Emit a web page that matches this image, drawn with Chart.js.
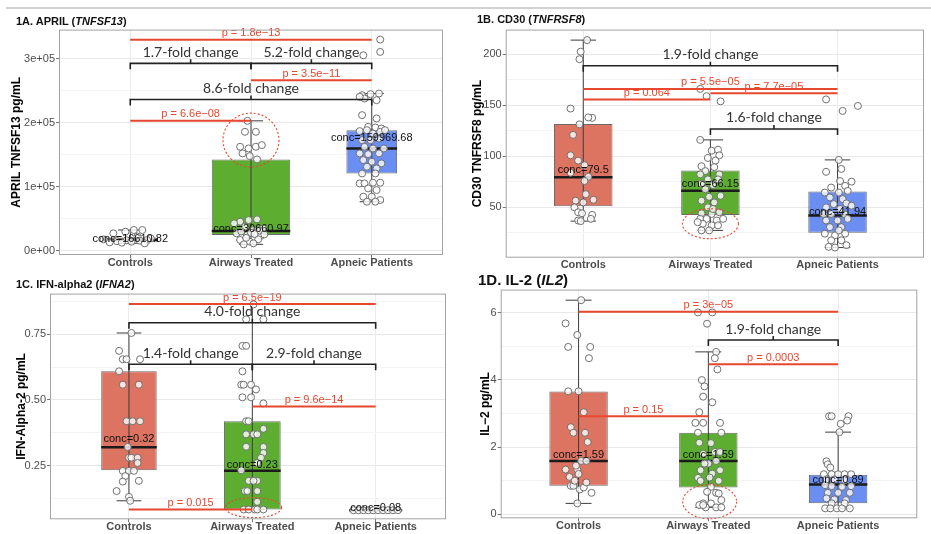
<!DOCTYPE html>
<html>
  <head>
    <meta charset='utf-8'>
    <title>Cytokine levels by group</title>

    <style>
      body {
        margin: 0;
        background: #fff;
        font-family: "Liberation Sans", Arial, sans-serif;
      }

      canvas { position: absolute; }

      .rule {
        position: absolute;
        left: 6px;
        right: 0;
        top: 7px;
        height: 2px;
        background: #d2d2d2;
      }

      .title {
        position: absolute;
        font-size: 11px;
        line-height: 13px;
        font-weight: bold;
        color: #111;
        white-space: nowrap;
      }
    </style>
    <script src='https://cdn.jsdelivr.net/npm/chart.js@4'></script>
  </head>
  <body onload='load();'>
    <div class='rule'></div>

    <canvas id='april' width='460' height='250' style='left:0;top:22px'></canvas>
    <canvas id='cd30' width='466' height='250' style='left:465px;top:22px'></canvas>
    <canvas id='ifn' width='460' height='248' style='left:0;top:286px'></canvas>
    <canvas id='il2' width='466' height='252' style='left:465px;top:282px'></canvas>

    <div class='title' style='left:16px;top:15px'>1A. APRIL (<i>TNFSF13</i>)</div>
    <div class='title' style='left:477px;top:13px'>1B. CD30 (<i>TNFRSF8</i>)</div>
    <div class='title' style='left:16px;top:278px'>1C. IFN-alpha2 (<i>IFNA2</i>)</div>
    <div class='title' style='left:478px;top:271px;font-size:15px;line-height:17px'>1D. IL-2 (<i>IL2</i>)</div>

    <script>
    var groups = ['Controls', 'Airways Treated', 'Apneic Patients'];
    var groupColors = ['#dd7361', '#5dad31', '#6b8ef2'];

    // ---- 1A APRIL ----
    var aprilCtrl = [32300, 32300, 29700, 27100, 22000, 19300, 17700, 16600, 16200, 15600, 14800, 14100, 13000, 12500, 11500];
    var aprilCtrlJit = [0.03, 0.10, -0.04, -0.14, 0.06, 0.17, -0.22, 0.14, -0.03, 0.08, -0.11, 0.01, -0.17, -0.07, 0.12];
    var aprilAir = [203100, 185900, 185900, 162500, 159900, 162500, 165100, 152100, 147900, 142700,
      45300, 47900, 49000, 42700, 37500, 32300, 34900, 27100, 24500, 27100, 22900, 16700, 14100, 17700, 9900, 11500,
      28000, 30000, 31500, 25500, 20000, 26000];
    var aprilAirJit = [-0.03, -0.05, 0.04, -0.09, -0.02, 0.04, 0.09, -0.07, -0.01, 0.05,
      -0.09, -0.02, 0.05, -0.14, -0.05, 0.02, 0.10, -0.12, -0.03, 0.04, 0.08, -0.09, -0.01, 0.06, -0.06, 0.02,
      0.00, -0.08, 0.07, 0.11, -0.04, 0.03];
    var aprilApn = [330200, 310900, 305700, 243200, 244800, 245800, 238000, 235400, 240600, 212000,
      206800, 193700, 192700, 191100, 187000, 188500, 183300, 185900, 188500, 172900,
      172900, 175500, 162500, 159900, 159900, 152100, 151000, 152100, 141700, 139100,
      136500, 131300, 128600, 120800, 120800, 105200, 105200, 106300, 106300, 97400,
      94800, 84400, 84400, 79200, 76600, 76600];
    var aprilApnJit = [0.07, 0.07, -0.07, -0.08, -0.01, 0.06, -0.06, 0.04, -0.10, -0.08,
      0.04, -0.03, 0.03, 0.08, -0.10, -0.04, 0.01, 0.07, 0.11, -0.08,
      -0.01, 0.06, -0.06, 0.01, 0.10, -0.10, -0.03, 0.06, -0.07, 0.00,
      0.08, -0.04, 0.04, -0.08, 0.03, -0.10, -0.06, 0.01, 0.07, -0.03,
      0.04, -0.07, 0.00, 0.07, -0.04, 0.03];
    var aprilLow = [11500, 9900, 76600];
    var aprilQ1 = [14300, 24500, 120800];
    var aprilMed = [16610.82, 30660.97, 159969.68];
    var aprilQ3 = [20500, 142700, 188500];
    var aprilHigh = [32300, 203100, 245800];
    var aprilTicks = [0, 100000, 200000, 300000];
    var aprilTickText = ['0e+00', '1e+05', '2e+05', '3e+05'];
    var aprilPFrom = [1, 2, 1], aprilPTo = [3, 3, 2];
    var aprilPAt = [330000, 266700, 203100];
    var aprilPText = ['1.8e\u221213', '3.5e\u221211', '6.6e\u221208'];
    var aprilFoldFrom = [1, 2, 1], aprilFoldTo = [2, 3, 3];
    var aprilFoldAt = [293000, 293000, 236500];
    var aprilFold = ['1.7', '5.2', '8.6'];

    // ---- 1B CD30 ----
    var cd30Ctrl = [213.9, 202.6, 195.2, 146.8, 131.3, 137.7, 138.1, 121.0, 101.0, 95.8, 91.3, 83.9, 80.0,
      75.8, 62.9, 56.5, 54.8, 57.4, 50.0, 45.2, 44.2, 42.6, 38.7, 37.1, 36.5];
    var cd30CtrlJit = [0.03, -0.02, -0.03, -0.10, -0.03, 0.07, 0.04, -0.08, -0.10, -0.04, 0.01, -0.10, 0.04,
      0.01, 0.02, -0.06, 0.00, 0.08, -0.07, -0.04, -0.01, 0.07, 0.06, -0.04, -0.02];
    var cd30Air = [166.1, 159.0, 153.9, 116.1, 105.5, 106.5, 101.0, 98.4, 95.8, 90.3,
      89.4, 85.5, 82.3, 82.3, 77.4, 77.4, 73.2, 71.9, 67.7, 61.3,
      60.3, 56.5, 54.8, 50.0, 44.2, 43.5, 45.2, 38.7, 38.7, 37.1,
      38.7, 33.9, 32.3, 32.3, 27.4, 27.4, 35.5, 48.4];
    var cd30AirJit = [-0.08, -0.03, 0.08, -0.08, 0.01, 0.06, 0.07, -0.02, 0.04, -0.07,
      0.03, -0.04, 0.07, -0.08, -0.02, 0.06, -0.07, 0.02, -0.04, 0.08,
      -0.01, -0.07, 0.03, -0.02, -0.07, 0.01, 0.07, -0.08, -0.03, 0.05,
      0.10, -0.06, 0.01, 0.06, -0.01, -0.07, -0.10, 0.02];
    var cd30Apn = [155.8, 144.5, 149.4, 96.5, 84.8, 87.7, 75.8, 75.2, 69.4, 71.0,
      64.5, 64.5, 66.1, 59.7, 58.1, 53.2, 53.9, 50.0, 48.4, 51.6,
      43.5, 42.9, 37.1, 37.1, 38.7, 30.6, 30.6, 24.2, 22.6, 24.2,
      17.7, 17.7, 11.3, 10.6, 12.9, 27.4, 43.5];
    var cd30ApnJit = [-0.09, 0.04, 0.16, 0.01, -0.09, 0.03, 0.02, 0.11, -0.05, 0.06,
      -0.10, 0.01, 0.08, -0.06, 0.04, -0.03, 0.07, -0.09, 0.02, 0.11,
      -0.05, 0.06, -0.09, 0.00, 0.08, -0.06, 0.03, -0.10, -0.02, 0.06,
      -0.05, 0.03, -0.07, -0.02, 0.07, 0.01, -0.11];
    var cd30Low = [36.5, 27.4, 10.6];
    var cd30Q1 = [51.0, 42.6, 25.2];
    var cd30Med = [79.5, 66.15, 41.94];
    var cd30Q3 = [131.6, 86.0, 65.5];
    var cd30High = [213.9, 116.1, 96.5];
    var cd30Ticks = [50, 100, 150, 200];
    var cd30TickText = ['50', '100', '150', '200'];
    var cd30PFrom = [1, 2, 1], cd30PTo = [3, 3, 2];
    var cd30PAt = [166.1, 161.9, 155.8];
    var cd30PText = ['5.5e\u221205', '7.7e\u221205', '0.064'];
    var cd30FoldFrom = [1, 2], cd30FoldTo = [3, 3];
    var cd30FoldAt = [188.7, 126.8];
    var cd30Fold = ['1.9', '1.6'];

    // ---- 1C IFN-alpha2 ----
    var ifnCtrl = [0.755, 0.687, 0.655, 0.655, 0.655, 0.609, 0.558, 0.558, 0.419, 0.419, 0.419, 0.321, 0.280,
      0.280, 0.280, 0.260, 0.230, 0.230, 0.230, 0.210, 0.189, 0.192, 0.153, 0.131, 0.116];
    var ifnCtrlJit = [0.02, -0.08, -0.05, -0.02, 0.09, -0.08, -0.05, 0.08, -0.02, 0.03, 0.09, -0.01, 0.00,
      0.02, 0.07, 0.07, -0.05, 0.00, 0.04, -0.03, -0.05, 0.08, -0.10, 0.00, 0.01];
    var ifnAir = [0.864, 0.807, 0.807, 0.706, 0.706, 0.609, 0.558, 0.558, 0.558, 0.540,
      0.510, 0.510, 0.487, 0.419, 0.419, 0.390, 0.369, 0.369, 0.369, 0.322,
      0.321, 0.298, 0.280, 0.260, 0.232, 0.192, 0.192, 0.192, 0.153, 0.153,
      0.153, 0.112, 0.083, 0.083, 0.083, 0.083, 0.083];
    var ifnAirJit = [0.01, -0.05, 0.09, -0.08, -0.05, -0.08, -0.09, -0.07, -0.01, 0.03,
      -0.08, -0.01, 0.09, -0.05, -0.03, 0.09, -0.05, 0.01, 0.04, -0.05,
      0.09, 0.09, 0.07, 0.04, -0.09, -0.03, 0.04, 0.01, -0.06, -0.04,
      0.04, 0.04, -0.07, -0.03, 0.02, 0.04, 0.09];
    var ifnApn = [0.08, 0.08, 0.08, 0.08, 0.08, 0.08, 0.08, 0.08, 0.08, 0.08];
    var ifnApnJit = [-0.18, -0.14, -0.10, -0.06, -0.02, 0.02, 0.06, 0.10, 0.14, 0.18];
    var ifnLow = [0.116, 0.083, 0.08];
    var ifnQ1 = [0.232, 0.083, 0.08];
    var ifnMed = [0.32, 0.23, 0.08];
    var ifnQ3 = [0.609, 0.419, 0.08];
    var ifnHigh = [0.755, 0.864, 0.08];
    var ifnTicks = [0.25, 0.5, 0.75];
    var ifnTickText = ['0.25', '0.50', '0.75'];
    var ifnPFrom = [1, 2, 1], ifnPTo = [3, 3, 2];
    var ifnPAt = [0.865, 0.475, 0.083];
    var ifnPText = ['6.5e\u221219', '9.6e\u221214', '0.015'];
    var ifnFoldFrom = [1, 1, 2], ifnFoldTo = [3, 2, 3];
    var ifnFoldAt = [0.794, 0.636, 0.636];
    var ifnFold = ['4.0', '1.4', '2.9'];

    // ---- 1D IL-2 ----
    var il2Ctrl = [6.375, 5.684, 5.339, 4.984, 4.984, 4.648, 3.661, 3.661, 3.040, 2.595, 2.428, 2.428, 2.151,
      1.589, 1.589, 1.332, 1.332, 1.115, 0.849, 0.849, 0.740, 0.641, 0.326, 1.2, 1.0, 0.8, 1.45, 0.95];
    var il2CtrlJit = [0.02, -0.10, -0.01, -0.08, 0.09, 0.08, -0.08, 0.00, 0.04, -0.06, -0.04, 0.05, 0.07,
      0.02, 0.06, -0.10, -0.01, -0.07, -0.06, -0.04, 0.01, 0.10, -0.01, 0.00, -0.03, 0.04, -0.02, 0.06];
    var il2Air = [6.010, 6.010, 5.675, 4.836, 4.648, 4.313, 3.997, 3.809, 3.503, 3.336,
      3.040, 2.724, 2.724, 2.724, 2.428, 2.428, 2.132, 2.122, 1.855, 1.855,
      1.806, 1.589, 1.510, 1.510, 1.313, 1.313, 1.214, 1.086, 1.095, 0.997,
      0.997, 0.819, 0.641, 0.671, 0.622, 0.424, 0.326, 0.326, 0.276, 0.207,
      0.207, 0.207, 0.276];
    var il2AirJit = [-0.08, 0.03, -0.01, 0.06, 0.05, 0.07, -0.05, -0.03, -0.04, 0.03,
      -0.07, -0.10, -0.04, 0.09, -0.08, 0.10, -0.07, 0.02, 0.05, 0.09,
      -0.04, 0.06, 0.00, -0.03, -0.06, 0.09, 0.03, -0.08, 0.01, 0.08,
      -0.06, 0.02, 0.06, -0.01, 0.08, 0.10, 0.02, -0.04, -0.07, -0.02,
      0.06, 0.10, -0.04];
    var il2Apn = [2.921, 2.921, 2.921, 2.793, 2.694, 2.447, 1.579, 1.490, 1.392, 1.194,
      1.194, 1.194, 1.194, 1.194, 1.036, 1.036, 1.016, 0.868, 0.839, 0.819,
      0.839, 0.641, 0.641, 0.641, 0.474, 0.444, 0.424, 0.326, 0.326, 0.178,
      0.178, 0.178, 0.178, 0.178];
    var il2ApnJit = [-0.07, -0.05, 0.08, 0.07, 0.02, 0.01, -0.09, -0.08, -0.06, -0.11,
      -0.05, 0.00, 0.05, 0.10, -0.09, -0.03, 0.05, -0.10, -0.05, 0.03,
      0.10, -0.08, 0.00, 0.09, -0.09, -0.03, 0.06, -0.05, 0.05, -0.10,
      -0.06, -0.01, 0.03, 0.09];
    var il2Low = [0.326, 0.207, 0.178];
    var il2Q1 = [0.85, 0.80, 0.33];
    var il2Med = [1.59, 1.59, 0.89];
    var il2Q3 = [3.66, 2.43, 1.18];
    var il2High = [6.375, 4.836, 2.447];
    var il2Ticks = [0, 2, 4, 6];
    var il2TickText = ['0', '2', '4', '6'];
    var il2PFrom = [1, 2, 1], il2PTo = [3, 3, 2];
    var il2PAt = [6.03, 4.47, 2.92];
    var il2PText = ['3e\u221205', '0.0003', '0.15'];
    var il2FoldFrom = [2], il2FoldTo = [3];
    var il2FoldAt = [5.19];
    var il2Fold = ['1.9'];

    var pRed = '#e8472f';
    var sans = '"Liberation Sans", Arial, sans-serif';

    // annotations drawn on top of the datasets: median labels, p-value bars,
    // fold-change brackets, the dotted ring and the panel frame
    var makeDecor = function(p) {
      return {
        id: 'decor',
        afterDatasetsDraw: function(chart) {
          var ctx = chart.ctx, area = chart.chartArea;
          var x = chart.scales.x, y = chart.scales.y;
          ctx.save();

          ctx.font = '11px ' + sans;
          ctx.fillStyle = '#111';
          ctx.textAlign = 'center';
          ctx.textBaseline = 'middle';
          p.med.forEach(function(m, g) {
            ctx.fillText('conc=' + m, x.getPixelForValue(g + 1), y.getPixelForValue(m) - p.concLift[g]);
          });

          ctx.strokeStyle = pRed;
          ctx.fillStyle = pRed;
          ctx.lineWidth = 2;
          ctx.textBaseline = 'bottom';
          p.pAt.forEach(function(v, i) {
            var x0 = x.getPixelForValue(p.pFrom[i]), x1 = x.getPixelForValue(p.pTo[i]);
            var yy = y.getPixelForValue(v);
            ctx.beginPath();
            ctx.moveTo(x0, yy);
            ctx.lineTo(x1, yy);
            ctx.stroke();
            ctx.fillText('p = ' + p.pText[i], (x0 + x1) / 2, yy - 1);
          });

          ctx.strokeStyle = '#222';
          ctx.fillStyle = '#333';
          ctx.lineWidth = 1.6;
          ctx.font = '14px Lato, "Open Sans", sans-serif';
          p.foldAt.forEach(function(v, i) {
            var x0 = x.getPixelForValue(p.foldFrom[i]), x1 = x.getPixelForValue(p.foldTo[i]);
            var yy = y.getPixelForValue(v), mid = (x0 + x1) / 2;
            ctx.beginPath();
            ctx.moveTo(x0, yy + 6);
            ctx.lineTo(x0, yy);
            ctx.lineTo(x1, yy);
            ctx.lineTo(x1, yy + 6);
            ctx.moveTo(mid, yy);
            ctx.lineTo(mid, yy - 4);
            ctx.stroke();
            ctx.fillText(p.fold[i] + '-fold change', mid, yy - 4);
          });

          var r = p.ring;
          ctx.strokeStyle = pRed;
          ctx.lineWidth = 1.1;
          ctx.setLineDash([2, 2]);
          ctx.beginPath();
          ctx.ellipse(x.getPixelForValue(r.x), y.getPixelForValue(r.y), r.rx, r.ry, 0, 0, Math.PI * 2);
          ctx.stroke();
          ctx.setLineDash([]);

          ctx.strokeStyle = '#a3a3a3';
          ctx.lineWidth = 1;
          ctx.strokeRect(area.left + 0.5, area.top + 0.5, area.width - 1, area.height - 1);
          ctx.restore();
        }
      };
    };

    var drawPanel = function(p) {
      var ctx = document.getElementById(p.id).getContext('2d');
      var c = p.canvas, a = p.plot;

      var step = p.ticks[1] - p.ticks[0];
      var gridVals = [];
      p.ticks.forEach(function(t) { gridVals.push(t - step / 2, t); });
      gridVals.push(p.ticks[p.ticks.length - 1] + step / 2);
      gridVals = gridVals.filter(function(v) { return v >= p.yRange[0] && v <= p.yRange[1]; });
      var isMajor = function(v) { return p.ticks.indexOf(v) >= 0; };

      var points = [];
      p.vals.forEach(function(vals, g) {
        vals.forEach(function(v, i) { points.push({ x: g + 1 + p.jit[g][i], y: v }); });
      });

      var cap = 0.1;
      var whiskers = [], medians = [];
      p.low.forEach(function(lo, g) {
        var cx = g + 1, hi = p.high[g], half = p.boxW[g] / 2;
        whiskers.push({ x: cx, y: lo }, { x: cx, y: hi }, { x: cx, y: null },
          { x: cx - cap, y: lo }, { x: cx + cap, y: lo }, { x: cx, y: null },
          { x: cx - cap, y: hi }, { x: cx + cap, y: hi }, { x: cx, y: null });
        medians.push({ x: cx - half, y: p.med[g] }, { x: cx + half, y: p.med[g] }, { x: cx, y: null });
      });

      var datasets = [
        {
          type: 'scatter', data: points, order: 0,
          pointRadius: 3.5, borderWidth: 1,
          backgroundColor: 'rgba(255,255,255,0.8)', borderColor: '#707070'
        },
        {
          type: 'line', data: medians, order: 1, spanGaps: false,
          borderColor: '#1b1b1b', borderWidth: 2.5, pointRadius: 0
        },
        {
          type: 'line', data: whiskers, order: 2, spanGaps: false,
          borderColor: '#3c3c3c', borderWidth: 1, pointRadius: 0
        }
      ];
      p.q1.forEach(function(q, g) {
        datasets.push({
          type: 'bar', order: 3,
          data: [{ x: g + 1, y: [q, p.q3[g]] }],
          backgroundColor: groupColors[g], borderColor: '#6a6a6a', borderWidth: 1,
          borderSkipped: false, grouped: false,
          barPercentage: p.boxW[g], categoryPercentage: 1
        });
      });

      new Chart(ctx, {
        type: 'scatter',
        data: { datasets: datasets },
        plugins: [makeDecor(p)],
        options: {
          responsive: false,
          devicePixelRatio: 1,
          animation: false,
          events: [],
          layout: { padding: { left: 0, top: a.t - c.top, right: c.left + c.w - a.r, bottom: 0 } },
          plugins: { legend: { display: false }, tooltip: { enabled: false } },
          scales: {
            x: {
              type: 'linear', min: p.xRange[0], max: p.xRange[1], offset: false,
              afterBuildTicks: function(s) { s.ticks = [{ value: 1 }, { value: 2 }, { value: 3 }]; },
              afterFit: function(s) { s.height = c.top + c.h - a.b; },
              grid: { color: '#ebebeb', tickColor: '#777', tickLength: 3, offset: false },
              border: { display: false },
              ticks: {
                autoSkip: false, maxRotation: 0, padding: -2, color: '#4d4d4d',
                font: { size: 11, weight: 'bold' },
                callback: function(v) { return groups[v - 1]; }
              }
            },
            y: {
              type: 'linear', min: p.yRange[0], max: p.yRange[1],
              afterBuildTicks: function(s) { s.ticks = gridVals.map(function(v) { return { value: v }; }); },
              afterFit: function(s) { s.width = a.l - c.left; },
              grid: {
                tickLength: 3,
                color: function(t) { return t.tick && isMajor(t.tick.value) ? '#e8e8e8' : '#f4f4f4'; },
                tickColor: function(t) { return t.tick && isMajor(t.tick.value) ? '#777' : 'rgba(0,0,0,0)'; }
              },
              border: { display: false },
              ticks: {
                autoSkip: false, padding: 1, color: '#4d4d4d', font: { size: 11 },
                callback: function(v) { var i = p.ticks.indexOf(v); return i >= 0 ? p.tickText[i] : ''; }
              },
              title: {
                display: true, text: p.yTitle, color: '#000',
                font: { size: 12, weight: 'bold' }, padding: { top: p.titlePad, bottom: 0 }
              }
            }
          }
        }
      });
    };

    var load = function() {
      Chart.defaults.font.family = sans;

      drawPanel({
        id: 'april', canvas: { left: 0, top: 22, w: 460, h: 250 }, plot: { l: 59, t: 29.3, r: 443, b: 255 },
        xRange: [0.41, 3.59], yRange: [-6770, 345800],
        ticks: aprilTicks, tickText: aprilTickText, yTitle: 'APRIL TNFSF13 pg/mL', titlePad: 9.8,
        vals: [aprilCtrl, aprilAir, aprilApn], jit: [aprilCtrlJit, aprilAirJit, aprilApnJit],
        low: aprilLow, q1: aprilQ1, med: aprilMed, q3: aprilQ3, high: aprilHigh,
        boxW: [0.46, 0.65, 0.42], concLift: [1, 2, 10],
        pFrom: aprilPFrom, pTo: aprilPTo, pAt: aprilPAt, pText: aprilPText,
        foldFrom: aprilFoldFrom, foldTo: aprilFoldTo, foldAt: aprilFoldAt, fold: aprilFold,
        ring: { x: 2, y: 172900, rx: 28, ry: 27 }
      });

      drawPanel({
        id: 'cd30', canvas: { left: 465, top: 22, w: 466, h: 250 }, plot: { l: 505.7, t: 26.7, r: 924, b: 257.7 },
        xRange: [0.39, 3.68], yRange: [0.65, 224.2],
        ticks: cd30Ticks, tickText: cd30TickText, yTitle: 'CD30 TNFRSF8 pg/mL', titlePad: 5.8,
        vals: [cd30Ctrl, cd30Air, cd30Apn], jit: [cd30CtrlJit, cd30AirJit, cd30ApnJit],
        low: cd30Low, q1: cd30Q1, med: cd30Med, q3: cd30Q3, high: cd30High,
        boxW: [0.46, 0.46, 0.46], concLift: [7, 7, 4],
        pFrom: cd30PFrom, pTo: cd30PTo, pAt: cd30PAt, pText: cd30PText,
        foldFrom: cd30FoldFrom, foldTo: cd30FoldTo, foldAt: cd30FoldAt, fold: cd30Fold,
        ring: { x: 2, y: 33.9, rx: 28, ry: 15 }
      });

      drawPanel({
        id: 'ifn', canvas: { left: 0, top: 286, w: 460, h: 248 }, plot: { l: 50, t: 292.3, r: 446, b: 519.3 },
        xRange: [0.36, 3.57], yRange: [0.0455, 0.905],
        ticks: ifnTicks, tickText: ifnTickText, yTitle: 'IFN-Alpha-2 pg/mL', titlePad: 14.5,
        vals: [ifnCtrl, ifnAir, ifnApn], jit: [ifnCtrlJit, ifnAirJit, ifnApnJit],
        low: ifnLow, q1: ifnQ1, med: ifnMed, q3: ifnQ3, high: ifnHigh,
        boxW: [0.45, 0.46, 0.43], concLift: [8, 6, 2],
        pFrom: ifnPFrom, pTo: ifnPTo, pAt: ifnPAt, pText: ifnPText,
        foldFrom: ifnFoldFrom, foldTo: ifnFoldTo, foldAt: ifnFoldAt, fold: ifnFold,
        ring: { x: 2.01, y: 0.09, rx: 28, ry: 10 }
      });

      drawPanel({
        id: 'il2', canvas: { left: 465, top: 282, w: 466, h: 252 }, plot: { l: 500.7, t: 288.3, r: 917.3, b: 518.3 },
        xRange: [0.40, 3.61], yRange: [-0.118, 6.69],
        ticks: il2Ticks, tickText: il2TickText, yTitle: 'IL\u22122 pg/mL', titlePad: 13.5,
        vals: [il2Ctrl, il2Air, il2Apn], jit: [il2CtrlJit, il2AirJit, il2ApnJit],
        low: il2Low, q1: il2Q1, med: il2Med, q3: il2Q3, high: il2High,
        boxW: [0.45, 0.45, 0.45], concLift: [6, 6, 4],
        pFrom: il2PFrom, pTo: il2PTo, pAt: il2PAt, pText: il2PText,
        foldFrom: il2FoldFrom, foldTo: il2FoldTo, foldAt: il2FoldAt, fold: il2Fold,
        ring: { x: 2.01, y: 0.375, rx: 27, ry: 17 }
      });
    };
    </script>
  </body>
</html>
